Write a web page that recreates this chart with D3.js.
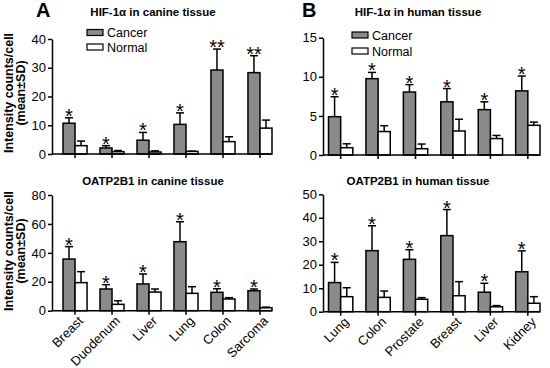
<!DOCTYPE html>
<html><head><meta charset="utf-8">
<script src="https://cdn.jsdelivr.net/npm/d3@7"></script>
<style>body{margin:0;background:#fff}svg{display:block;font-family:"Liberation Sans",Arial,sans-serif}</style>
</head><body><svg id="c" width="550" height="368"></svg>
<script>
// ---- data ----
const canineTissues = ["Breast","Duodenum","Liver","Lung","Colon","Sarcoma"];
const humanTissues  = ["Lung","Colon","Prostate","Breast","Liver","Kidney"];

const hifCanineCancer   = [10.7, 2.1, 4.8, 10.3, 29.2, 28.3];
const hifCanineCancerSD = [1.9, 0.8, 2.7, 4.0, 7.3, 5.9];
const hifCanineNormal   = [2.9, 0.8, 0.7, 0.9, 4.3, 9.0];
const hifCanineNormalSD = [1.6, 0.4, 0.4, 0.1, 1.7, 2.8];
const hifCanineStars    = ["*","*","*","*","**","**"];

const hifHumanCancer    = [4.9, 9.76, 8.05, 6.8, 5.8, 8.2];
const hifHumanCancerSD  = [2.55, 0.8, 0.95, 1.7, 1.0, 1.9];
const hifHumanNormal    = [0.93, 3.0, 0.8, 3.07, 2.1, 3.8];
const hifHumanNormalSD  = [0.5, 0.75, 0.6, 1.5, 0.4, 0.4];
const hifHumanStars     = ["*","*","*","*","*","*"];

const oatpCanineCancer   = [35.7, 15.0, 18.5, 47.7, 12.7, 13.8];
const oatpCanineCancerSD = [8.6, 3.0, 6.9, 13.8, 2.5, 1.2];
const oatpCanineNormal   = [19.4, 4.4, 12.9, 12.0, 8.1, 2.0];
const oatpCanineNormalSD = [7.6, 2.5, 2.1, 4.6, 0.9, 0.5];
const oatpCanineStars    = ["*","*","*","*","*","*"];

const oatpHumanCancer    = [12.4, 26.0, 22.3, 32.4, 8.3, 17.0];
const oatpHumanCancerSD  = [8.6, 10.6, 4.1, 11.1, 3.8, 8.9];
const oatpHumanNormal    = [6.4, 6.1, 5.3, 6.8, 2.1, 3.6];
const oatpHumanNormalSD  = [3.8, 2.7, 0.7, 6.0, 0.5, 2.8];
const oatpHumanStars     = ["*","*","*","*","*","*"];

const ticksHifCanine  = [0,10,20,30,40];
const ticksHifHuman   = [0,5,10,15];
const ticksOatpCanine = [0,20,40,60,80];
const ticksOatpHuman  = [0,10,20,30,40,50];

const seriesNames = ["Cancer","Normal"];
const yLabel1 = "Intensity counts/cell";
const yLabel2 = "(mean\u00B1SD)";

// ---- drawing ----
const svg = d3.select("#c");
const cancerFill = "#8a8a8a";
const FONT = "Liberation Sans, Arial, sans-serif";

function panel(o){
  const g = svg.append("g");
  const y = d3.scaleLinear().domain([0, o.ticks[o.ticks.length-1]]).range([o.y0, o.yTop]);
  const x = d3.scaleBand().domain(o.cats).range([o.barStart, o.x1]).paddingInner(0.35).paddingOuter(0);
  const bw = x.bandwidth()/2;
  // y axis
  const ya = g.append("g").attr("transform",`translate(${o.x0},0)`)
    .call(d3.axisLeft(y).tickValues(o.ticks).tickSize(4).tickPadding(2).tickSizeOuter(0));
  ya.attr("font-family",FONT);
  ya.select(".domain").attr("stroke","#000").attr("stroke-width",1.5);
  ya.selectAll(".tick line").attr("stroke-width",1.5);
  ya.selectAll("text").attr("font-size",13).attr("fill","#000");
  const rows = o.cats.map((c,i)=>({c, i}));
  const grp = g.append("g");
  // error bars (upward only)
  function err(vals, sds, off){
    rows.forEach(r=>{
      const cx = x(r.c)+off+bw/2;
      const top = y(vals[r.i]+sds[r.i]);
      grp.append("line").attr("x1",cx).attr("x2",cx).attr("y1",y(vals[r.i])).attr("y2",top)
        .attr("stroke","#000").attr("stroke-width",1.5);
      grp.append("line").attr("x1",cx-4).attr("x2",cx+4).attr("y1",top).attr("y2",top)
        .attr("stroke","#000").attr("stroke-width",1.5);
    });
  }
  err(o.cancer, o.cancerSD, 0);
  err(o.normal, o.normalSD, bw);
  grp.selectAll("rect.c").data(rows).join("rect").attr("class","c")
    .attr("x",d=>x(d.c)).attr("width",bw)
    .attr("y",d=>y(o.cancer[d.i])).attr("height",d=>o.y0-y(o.cancer[d.i]))
    .attr("fill",cancerFill).attr("stroke","#000").attr("stroke-width",1.5);
  grp.selectAll("rect.n").data(rows).join("rect").attr("class","n")
    .attr("x",d=>x(d.c)+bw).attr("width",bw)
    .attr("y",d=>y(o.normal[d.i])).attr("height",d=>o.y0-y(o.normal[d.i]))
    .attr("fill","#fff").attr("stroke","#000").attr("stroke-width",1.5);
  // significance stars
  grp.selectAll("text.s").data(rows).join("text").attr("class","s")
    .attr("x",d=>x(d.c)+bw/2).attr("y",d=>y(o.cancer[d.i]+o.cancerSD[d.i])+5)
    .attr("text-anchor","middle").attr("font-size",20).attr("fill","#000").text(d=>o.stars[d.i]);
  // x axis
  g.append("line").attr("x1",o.x0).attr("x2",o.x1).attr("y1",o.y0).attr("y2",o.y0)
    .attr("stroke","#000").attr("stroke-width",1.5);
  rows.forEach(r=>{
    const tx = x(r.c)+bw;
    g.append("line").attr("x1",tx).attr("x2",tx).attr("y1",o.y0).attr("y2",o.y0+4)
      .attr("stroke","#000").attr("stroke-width",1.5);
    if(o.labels){
      g.append("text").attr("text-anchor","end").attr("font-size",13).attr("fill","#000")
        .attr("transform",`translate(${tx+9},${o.y0+11}) rotate(-45)`).text(r.c);
    }
  });
  // title
  g.append("text").attr("x",o.titleX).attr("y",o.titleY).attr("text-anchor","middle")
    .attr("font-weight","bold").attr("font-size",11.5).text(o.title);
  if(o.letter){
    g.append("text").attr("x",o.letterX).attr("y",17).attr("font-weight","bold")
      .attr("font-size",20).text(o.letter);
  }
  if(o.legend){
    const L = o.legend;
    seriesNames.forEach((s,i)=>{
      g.append("rect").attr("x",L.x).attr("y",L.y+i*L.dy-3).attr("width",16).attr("height",6)
        .attr("fill",i===0?cancerFill:"#fff").attr("stroke","#000").attr("stroke-width",1.2);
      g.append("text").attr("x",L.x+20).attr("y",L.y+i*L.dy+4.5).attr("font-size",12.5).text(s);
    });
  }
  if(o.ylab){
    const cy = o.ylabY;
    g.append("text").attr("transform",`translate(12.5,${cy}) rotate(-90)`).attr("text-anchor","middle")
      .attr("font-weight","bold").attr("font-size",12.5).text(yLabel1);
    g.append("text").attr("transform",`translate(25,${cy}) rotate(-90)`).attr("text-anchor","middle")
      .attr("font-weight","bold").attr("font-size",12.5).text(yLabel2);
  }
}

panel({cats:canineTissues, cancer:hifCanineCancer, cancerSD:hifCanineCancerSD, normal:hifCanineNormal, normalSD:hifCanineNormalSD,
  stars:hifCanineStars, ticks:ticksHifCanine, x0:52, barStart:63, x1:272, y0:154, yTop:39,
  title:"HIF-1\u03B1 in canine tissue", titleX:153, titleY:16, letter:"A", letterX:36,
  legend:{x:87, y:32.5, dy:14.5}, ylab:true, ylabY:93});
panel({cats:humanTissues, cancer:hifHumanCancer, cancerSD:hifHumanCancerSD, normal:hifHumanNormal, normalSD:hifHumanNormalSD,
  stars:hifHumanStars, ticks:ticksHifHuman, x0:323, barStart:328.5, x1:540, y0:155, yTop:37.7,
  title:"HIF-1\u03B1 in human tissue", titleX:418, titleY:16, letter:"B", letterX:302,
  legend:{x:352, y:35, dy:16}});
panel({cats:canineTissues, cancer:oatpCanineCancer, cancerSD:oatpCanineCancerSD, normal:oatpCanineNormal, normalSD:oatpCanineNormalSD,
  stars:oatpCanineStars, ticks:ticksOatpCanine, x0:52, barStart:63, x1:272, y0:310.7, yTop:195,
  title:"OATP2B1 in canine tissue", titleX:153, titleY:185, labels:true, ylab:true, ylabY:251});
panel({cats:humanTissues, cancer:oatpHumanCancer, cancerSD:oatpHumanCancerSD, normal:oatpHumanNormal, normalSD:oatpHumanNormalSD,
  stars:oatpHumanStars, ticks:ticksOatpHuman, x0:323, barStart:328.5, x1:540, y0:311.7, yTop:194.3,
  title:"OATP2B1 in human tissue", titleX:418, titleY:185, labels:true});
</script></body></html>
